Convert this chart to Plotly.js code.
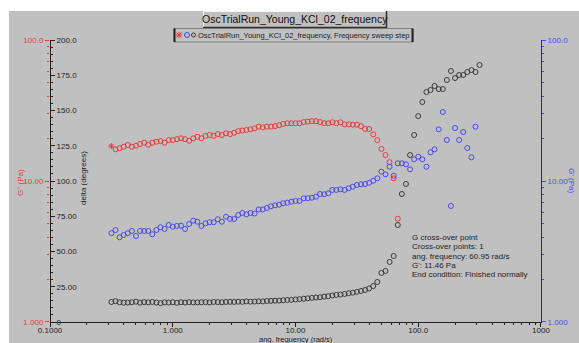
<!DOCTYPE html>
<html><head><meta charset="utf-8">
<script src="https://cdn.plot.ly/plotly-3.0.1.min.js"></script>
<style>
html,body{margin:0;padding:0;background:#fff;width:579px;height:343px;overflow:hidden}
#chart{position:absolute;left:9px;top:11px;width:570px;height:332px}
</style>
</head><body><div id="chart"></div>
<script>
// ---- data ----
const freq = [0.3162,0.3415,0.3687,0.3981,0.4299,0.4642,0.5012,0.5412,0.5843,0.6310,0.6813,0.7356,0.7943,0.8577,0.9261,
  1.000,1.080,1.166,1.259,1.359,1.468,1.585,1.711,1.848,1.995,2.154,2.326,2.512,2.712,2.929,3.162,3.415,3.687,3.981,4.299,4.642,5.012,5.412,5.843,6.310,6.813,7.356,7.943,8.577,9.261,
  10.00,10.80,11.66,12.59,13.59,14.68,15.85,17.11,18.48,19.95,21.54,23.26,25.12,27.12,29.29,31.62,34.15,36.87,39.81,42.99,46.42,50.12,54.12,58.43,63.10,68.13,73.56,79.43,85.77,92.61,
  100.0,108.0,116.6,125.9,135.9,146.8,158.5,171.1,184.8,199.5,215.4,232.6,251.2,271.2,292.9,316.2];
const gDoublePrime = [17.7,16.8,17.1,17.5,18.0,17.5,17.8,18.3,18.7,18.1,18.7,19.0,19.2,18.7,19.5,19.5,19.8,20.1,19.8,19.3,20.1,20.6,20.1,20.9,21.2,20.9,21.5,21.2,21.8,21.5,22.0,
  22.6,22.8,23.0,23.3,23.6,24.3,24.0,24.3,24.3,24.5,24.9,25.4,25.7,25.7,25.7,25.7,26.2,26.4,26.6,26.6,26.2,25.7,25.7,26.1,25.7,26.1,25.2,25.2,25.1,25.1,24.5,23.4,23.4,21.4,19.5,16.9,15.3,13.6,10.45,5.40];
const gPrime = [4.26,4.49,3.99,4.14,4.26,4.42,4.07,4.42,4.42,4.42,4.19,4.49,4.70,4.57,4.88,4.74,4.80,4.82,4.57,4.95,
  5.23,5.14,4.80,5.01,5.10,5.10,5.35,5.14,5.58,5.38,5.38,5.74,5.93,5.79,5.93,5.88,6.28,6.28,6.44,6.61,
  6.72,6.79,6.95,7.02,7.13,7.22,7.22,7.54,7.54,7.61,7.74,8.09,8.05,8.18,8.64,8.64,8.73,8.64,8.88,9.11,
  9.37,9.48,9.52,9.72,10.05,10.45,11.64,11.15,12.63,10.90,13.35,13.35,13.13,12.11,14.25,14.87,14.25,12.63,15.98,16.78,
  23.26,30.86,19.54,6.65,23.76,19.54,22.26,17.14,14.72,24.28];
const delta = [14.2,14.8,14.0,13.7,13.8,14.0,14.4,13.7,14.1,13.9,14.2,13.8,13.4,13.9,13.8,14.0,13.6,14.0,13.8,14.1,
  13.9,13.9,14.0,14.1,13.9,14.2,14.1,14.0,14.2,14.3,14.2,14.4,14.3,14.6,14.4,14.5,14.7,14.6,14.9,15.0,
  15.1,15.2,15.4,15.6,15.7,16.0,16.2,16.5,16.8,17.1,17.4,17.6,18.0,18.3,18.8,19.2,19.5,19.9,20.4,20.8,
  21.4,22.0,22.7,23.8,25.5,28.4,34.8,36.2,42.6,46.8,68.8,90.8,97.9,118.4,132.6,146.0,156.0,163.1,164.5,167.4,
  165.2,165.2,171.6,178.0,173.0,175.2,175.2,177.3,178.7,177.3,182.3];

const xTickVals = [0.1,1,10,100,1000];
const xTickText = ["0.1000","1.000","10.00","100.0","1000"];
const deltaTickVals = [0,25,50,75,100,125,150,175,200];
const deltaTickText = ["0","25.00","50.00","75.00","100.0","125.0","150.0","175.0","200.0"];
const modTickVals = [1,10,100];
const modTickText = ["1.000","10.00","100.0"];
const chartTitle = "OscTrialRun_Young_KCl_02_frequency";
const legendText = "OscTrialRun_Young_KCl_02_frequency, Frequency sweep step";
const infoLines = ["G cross-over point","Cross-over points: 1","ang. frequency: 60.95 rad/s","G': 11.46 Pa","End condition: Finished normally"];
const xTitle = "ang. frequency (rad/s)";
const deltaTitle = "delta (degrees)";
const gppTitle = "G'' (Pa)";
const gpTitle = "G' (Pa)";

// ---- styling ----
const RED = '#ee3838', BLUE = '#4848ee', DARK = '#3a3a3a', BG = '#c0c0c0';
const FONT = 'Liberation Sans, Arial, sans-serif';
const PX = X => (X - 50) / 491;   // page px -> paper
const PY = Y => (322 - Y) / 282;

function logMinor(d0, d1){ const v=[]; for(let d=d0; d<d1; d++) for(let k=2;k<=9;k++) v.push(k*Math.pow(10,d)); return v; }

const redSymbols = gDoublePrime.map((_, i) => i === 0 ? 'asterisk-open' : 'circle-open');

const traces = [
  {x: freq.slice(0, gDoublePrime.length), y: gDoublePrime, yaxis: 'y2', type: 'scatter', mode: 'markers',
   marker: {symbol: redSymbols, size: 5, color: RED, line: {color: RED, width: 1}}},
  {x: freq.slice(0, gPrime.length), y: gPrime, yaxis: 'y3', type: 'scatter', mode: 'markers',
   marker: {symbol: 'circle-open', size: 5, color: BLUE, line: {color: BLUE, width: 1}}},
  {x: freq, y: delta, yaxis: 'y', type: 'scatter', mode: 'markers',
   marker: {symbol: 'circle-open', size: 5, color: DARK, line: {color: DARK, width: 1}}}
];

const tickFont = {family: FONT, size: 8, color: '#222'};
const shapes = [
  // title box (raised)
  {type:'rect', xref:'paper', yref:'paper', x0:PX(203), x1:PX(387), y0:PY(28), y1:PY(11), fillcolor:BG, line:{width:0}},
  {type:'line', xref:'paper', yref:'paper', x0:PX(203), x1:PX(387), y0:PY(11.5), y1:PY(11.5), line:{color:'#f4f4f4', width:1.2}},
  {type:'line', xref:'paper', yref:'paper', x0:PX(203.5), x1:PX(203.5), y0:PY(28), y1:PY(11), line:{color:'#f4f4f4', width:1.2}},
  {type:'line', xref:'paper', yref:'paper', x0:PX(386.5), x1:PX(386.5), y0:PY(28), y1:PY(11), line:{color:'#303030', width:1.5}},
  {type:'line', xref:'paper', yref:'paper', x0:PX(203), x1:PX(387), y0:PY(27.5), y1:PY(27.5), line:{color:'#303030', width:1.5}},
  // legend box
  {type:'rect', xref:'paper', yref:'paper', x0:PX(174), x1:PX(413), y0:PY(42), y1:PY(28.5), line:{color:'#707070', width:0.8}},
  {type:'line', xref:'paper', yref:'paper', x0:PX(174.5), x1:PX(174.5), y0:PY(42), y1:PY(28.5), line:{color:'#202020', width:2}},
  {type:'line', xref:'paper', yref:'paper', x0:PX(412.5), x1:PX(412.5), y0:PY(42), y1:PY(28.5), line:{color:'#202020', width:2}},
  // legend icons
  {type:'line', xref:'paper', yref:'paper', x0:PX(176.5), x1:PX(181.5), y0:PY(32.5), y1:PY(37.5), line:{color:RED, width:1}},
  {type:'line', xref:'paper', yref:'paper', x0:PX(176.5), x1:PX(181.5), y0:PY(37.5), y1:PY(32.5), line:{color:RED, width:1}},
  {type:'line', xref:'paper', yref:'paper', x0:PX(179), x1:PX(179), y0:PY(32), y1:PY(38), line:{color:RED, width:1}},
  {type:'line', xref:'paper', yref:'paper', x0:PX(176), x1:PX(182), y0:PY(35), y1:PY(35), line:{color:RED, width:1}},
  {type:'circle', xref:'paper', yref:'paper', x0:PX(184.5), x1:PX(189.5), y0:PY(37.5), y1:PY(32.5), line:{color:BLUE, width:1}},
  {type:'circle', xref:'paper', yref:'paper', x0:PX(191.5), x1:PX(195.5), y0:PY(37), y1:PY(33), line:{color:DARK, width:1}}
];

const annotations = [
  {text: chartTitle, xref:'paper', yref:'paper', x:PX(295), y:PY(19.5), xanchor:'center', yanchor:'middle', showarrow:false,
   font:{family:FONT, size:10.5, color:'#111'}},
  {text: legendText, xref:'paper', yref:'paper', x:PX(196), y:PY(35.5), xanchor:'left', yanchor:'middle', showarrow:false,
   font:{family:FONT, size:7.5, color:'#222'}},
  {text: xTitle, xref:'paper', yref:'paper', x:PX(296), y:PY(339), xanchor:'center', yanchor:'middle', showarrow:false,
   borderpad:0, font:{family:FONT, size:7.5, color:'#222'}},
  {text: gppTitle, xref:'paper', yref:'paper', x:PX(20), y:PY(183), xanchor:'center', yanchor:'middle', showarrow:false, textangle:-90,
   font:{family:FONT, size:8, color:RED}},
  {text: deltaTitle, xref:'paper', yref:'paper', x:PX(83), y:PY(178), xanchor:'center', yanchor:'middle', showarrow:false, textangle:-90,
   font:{family:FONT, size:8, color:'#222'}},
  {text: gpTitle, xref:'paper', yref:'paper', x:PX(572), y:PY(180), xanchor:'center', yanchor:'middle', showarrow:false, textangle:90,
   font:{family:FONT, size:8, color:BLUE}}
];
const infoY = [237, 246.5, 256, 265.3, 274.5];
infoLines.forEach((t, i) => annotations.push({text: t, xref:'paper', yref:'paper', x:PX(410), y:PY(infoY[i]),
  xanchor:'left', yanchor:'middle', showarrow:false, font:{family:FONT, size:8, color:'#222'}}));

const layout = {
  width: 570, height: 332,
  margin: {l: 41, r: 38, t: 29, b: 21, pad: 0},
  paper_bgcolor: BG, plot_bgcolor: BG,
  showlegend: false,
  font: {family: FONT, size: 8, color: '#222'},
  xaxis: {type: 'log', range: [-1.0004, 3.0004], tickmode: 'array', tickvals: xTickVals, ticktext: xTickText,
    ticks: 'outside', ticklen: 4, tickcolor: '#222', showline: true, linecolor: '#222', linewidth: 1,
    showgrid: false, zeroline: false, tickfont: tickFont, ticklabelstandoff: -4,
    minor: {tickvals: logMinor(-1, 3), ticks: 'outside', ticklen: 2, tickcolor: '#222', showgrid: false}},
  // delta axis: drawn on the left edge with its labels to the right of the line
  yaxis: {range: [0, 200], tickmode: 'array', tickvals: deltaTickVals, ticktext: deltaTickText,
    side: 'right', anchor: 'free', position: 0,
    ticks: 'outside', ticklen: 4, tickcolor: '#222',
    showline: true, linecolor: '#222', linewidth: 1, showgrid: false, zeroline: false, tickfont: tickFont,
    minor: {dtick: 5, ticks: 'outside', ticklen: 2, tickcolor: '#222', showgrid: false}},
  yaxis2: {type: 'log', range: [-0.0004, 2.0004], overlaying: 'y', side: 'left', anchor: 'x',
    tickmode: 'array', tickvals: modTickVals, ticktext: modTickText,
    ticks: 'outside', ticklen: 4, tickcolor: RED, showline: false, showgrid: false, zeroline: false,
    tickfont: {family: FONT, size: 8, color: RED},
    minor: {tickvals: logMinor(0, 2), ticks: 'outside', ticklen: 2, tickcolor: RED, showgrid: false}},
  yaxis3: {type: 'log', range: [-0.0004, 2.0004], overlaying: 'y', side: 'right', anchor: 'x',
    tickmode: 'array', tickvals: modTickVals, ticktext: modTickText,
    ticks: 'outside', ticklen: 4, tickcolor: BLUE, showline: true, linecolor: '#333', linewidth: 1,
    showgrid: false, zeroline: false,
    tickfont: {family: FONT, size: 8, color: BLUE},
    minor: {tickvals: logMinor(0, 2), ticks: 'outside', ticklen: 2, tickcolor: BLUE, showgrid: false}},
  shapes: shapes,
  annotations: annotations
};

Plotly.newPlot('chart', traces, layout, {staticPlot: true, displayModeBar: false});
</script>
</body></html>
